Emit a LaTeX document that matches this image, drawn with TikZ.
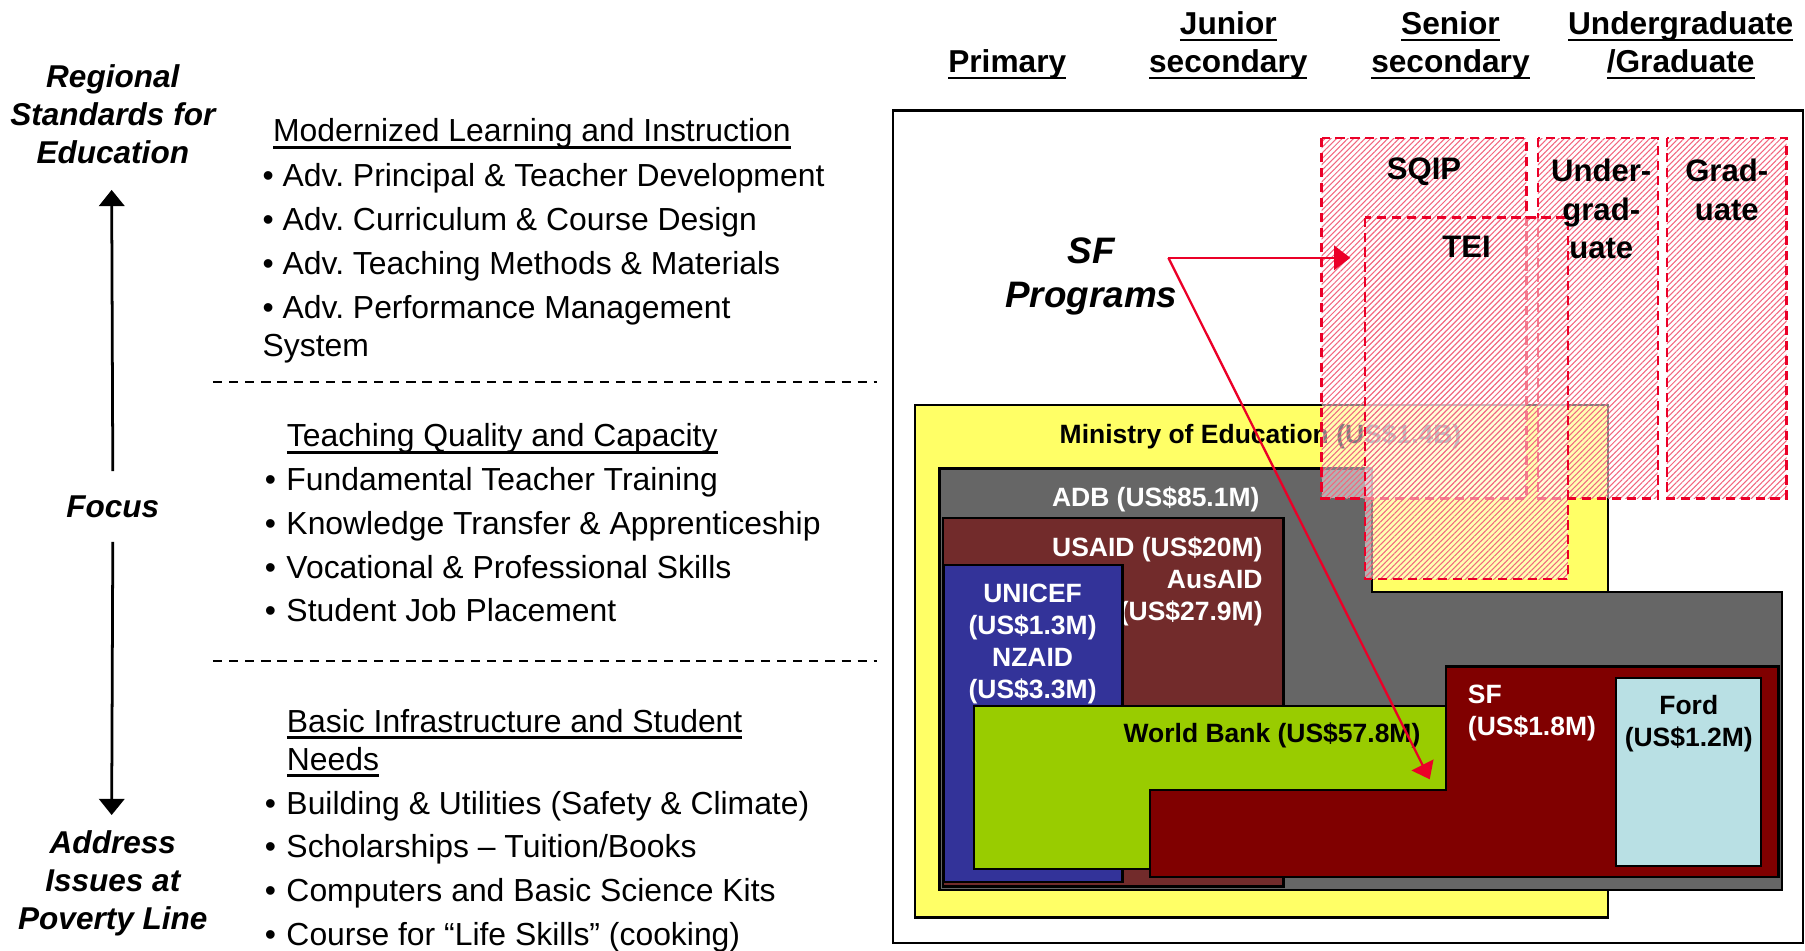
\documentclass[tikz,border=0pt]{standalone}
\usepackage{fontspec}
\setmainfont{Liberation Sans}
\usetikzlibrary{arrows.meta,patterns.meta}
\frenchspacing
\newcommand{\hdul}[1]{\vtop{\hbox{\raisebox{0pt}[\height][0pt]{#1}}\kern3.5pt\hrule height 2.3pt}}
\definecolor{moeyellow}{RGB}{255,255,102}
\definecolor{adbgray}{RGB}{102,102,102}
\definecolor{usaidbrown}{RGB}{114,43,43}
\definecolor{unicefblue}{RGB}{51,51,153}
\definecolor{wbgreen}{RGB}{153,204,0}
\definecolor{sfred}{RGB}{128,0,0}
\definecolor{fordblue}{RGB}{185,224,228}
\definecolor{progred}{RGB}{235,0,40}

\tikzset{
  fund/.style={draw=black,line width=2pt},
  prog/.style={preaction={fill=white,fill opacity=.5},
    pattern={Lines[angle=45,distance=3.5pt,line width=.9pt]},pattern color=progred!60,
    draw=progred,line width=2pt,dash pattern=on 8pt off 5pt},
  listtext/.style={font=\fontsize{27.7}{33}\selectfont,inner sep=0,align=left,anchor=north west},
  levelhead/.style={font=\bfseries\fontsize{27.5}{33}\selectfont,inner sep=0,align=center,anchor=north},
  sidetext/.style={font=\bfseries\itshape\fontsize{27.4}{33}\selectfont,inner sep=0,align=center},
  fundtext/.style={font=\bfseries\fontsize{23}{28}\selectfont,inner sep=0},
  progtext/.style={font=\bfseries\fontsize{27}{33.5}\selectfont,inner sep=0,align=center,anchor=north},
  focusarrow/.style={line width=2.4pt,-{Triangle[length=14pt,width=22pt]}},
  sfarrow/.style={draw=progred,line width=2pt,-{Triangle[length=14pt,width=21pt]}}
}

\begin{document}
\begin{tikzpicture}[x=1pt,y=-1pt]
\useasboundingbox (0,0) rectangle (1568,826);

% left side: focus scale
\node[sidetext] (regional) at (98,99) {Regional\\Standards for\\Education};
\node[sidetext,inner ysep=21pt] (focus) at (98,440) {Focus};
\node[sidetext] (poverty) at (98,767) {Address\\Issues at\\Poverty Line};
\coordinate (uptip) at (97,165);
\coordinate (downtip) at (97,708);
\draw[focusarrow] (focus.north) -- (uptip);
\draw[focusarrow] (focus.south) -- (downtip);

% lists
\node[listtext] (modern) at (228,103)
{\hspace*{9pt}\hdul{Modernized Learning and Instruction}\\[6pt]
\textbullet\ Adv. Principal \& Teacher Development\\[5pt]
\textbullet\ Adv. Curriculum \& Course Design\\[5pt]
\textbullet\ Adv. Teaching Methods \& Materials\\[5pt]
\textbullet\ Adv. Performance Management\\
System};
\node[listtext] (quality) at (230,368)
{\hspace*{19pt}\hdul{Teaching Quality and Capacity}\\[5pt]
\textbullet\hspace{9pt}Fundamental Teacher Training\\[5pt]
\textbullet\hspace{9pt}Knowledge Transfer \& Apprenticeship\\[5pt]
\textbullet\hspace{9pt}Vocational \& Professional Skills\\[5pt]
\textbullet\hspace{9pt}Student Job Placement};
\node[listtext] (basic) at (230,616)
{\hspace*{19pt}\hdul{Basic Infrastructure and Student}\\
\hspace*{19pt}\hdul{Needs}\\[5pt]
\textbullet\hspace{9pt}Building \& Utilities (Safety \& Climate)\\[5pt]
\textbullet\hspace{9pt}Scholarships -- Tuition/Books\\[5pt]
\textbullet\hspace{9pt}Computers and Basic Science Kits\\[5pt]
\textbullet\hspace{9pt}Course for ``Life Skills'' (cooking)};
\draw[line width=1.5pt,dash pattern=on 8pt off 6pt] (185,332) -- (762,332);
\draw[line width=1.5pt,dash pattern=on 8pt off 6pt] (185,574) -- (762,574);

% school levels
\node[levelhead] (primary) at (875,43) {\hdul{Primary}};
\node[levelhead] (junior) at (1067,10) {\hdul{Junior}\\\hdul{secondary}};
\node[levelhead] (senior) at (1260,10) {\hdul{Senior}\\\hdul{secondary}};
\node[levelhead] (tertiary) at (1460,10) {\hdul{Undergraduate}\\\hdul{/Graduate}};

% funders
\draw[line width=2pt] (776,96) rectangle (1566,819);
\draw[fund,fill=moeyellow] (795,352) rectangle (1397,797);
\node[fundtext,anchor=north] (moe) at (1095,368) {Ministry of Education (US\$1.4B)};
\draw[fund,fill=adbgray] (816,407) -- (1192,407) -- (1192,514) -- (1548,514) -- (1548,773) -- (816,773) -- cycle;
\node[fundtext,anchor=north,text=white] (adb) at (1004,423) {ADB (US\$85.1M)};
\draw[fund,fill=usaidbrown] (819,450) rectangle (1115,770);
\node[fundtext,anchor=north east,align=right,text=white] (usaid) at (1097,466) {USAID (US\$20M)\\AusAID\\(US\$27.9M)};
\draw[fund,fill=unicefblue] (820,491) rectangle (975,766);
\node[fundtext,anchor=north,align=center,text=white,font=\bfseries\fontsize{23}{27.7}\selectfont] (unicef) at (897,507) {UNICEF\\(US\$1.3M)\\NZAID\\(US\$3.3M)};
\draw[fund,fill=wbgreen] (846,613) rectangle (1256,755);
\node[fundtext,anchor=north] (wb) at (1105,628) {World Bank (US\$57.8M)};
\draw[fund,fill=sfred] (1256,579) -- (1545,579) -- (1545,762) -- (999,762) -- (999,686) -- (1256,686) -- cycle;
\node[fundtext,anchor=north west,align=left,text=white] (sf) at (1275,595) {SF\\(US\$1.8M)};
\draw[fund,fill=fordblue] (1404,589) rectangle (1530,752);
\node[fundtext,anchor=north,align=center] (ford) at (1467,604) {Ford\\(US\$1.2M)};

% SF programs
\path[prog] (1148,120) rectangle (1326,433);
\path[prog] (1336,120) rectangle (1440,433);
\path[prog] (1448,120) rectangle (1552,433);
\path[prog] (1186,189) rectangle (1362,503);
\node[progtext] (sqip) at (1237,137) {SQIP};
\node[progtext] (under) at (1391,138) {Under-\\grad-\\uate};
\node[progtext] (grad) at (1500,138) {Grad-\\uate};
\node[progtext] (tei) at (1274,205) {TEI};

\node[font=\bfseries\itshape\fontsize{32}{39}\selectfont,inner sep=0,align=center,anchor=north] (sfprog) at (948,206) {SF\\Programs};
\coordinate (sfsrc) at (1015,224);
\coordinate (teitip) at (1173,224);
\coordinate (sftip) at (1242,677);
\draw[sfarrow] (sfsrc) -- (teitip);
\draw[sfarrow] (sfsrc) -- (sftip);
\end{tikzpicture}
\end{document}
